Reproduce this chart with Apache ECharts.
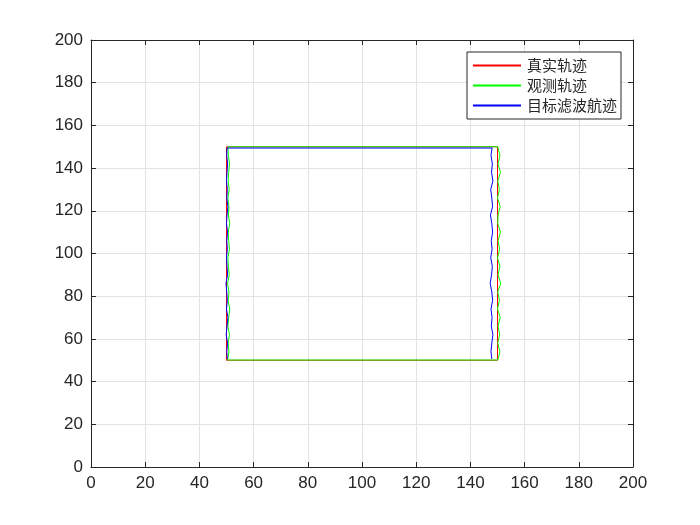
<!DOCTYPE html>
<html lang="zh">
<head>
  <meta charset="utf-8">
  <script src="https://cdn.jsdelivr.net/npm/echarts@6/dist/echarts.min.js"></script>
  <style>html,body{margin:0;padding:0;background:#fff;}</style>
</head>
<body>
  <div id="trackChart" style="width:700px;height:525px;"></div>

  <script type="text/javascript">

    // 真实轨迹
    var trueX = [50, 50, 150, 150, 50];
    var trueY = [50, 150, 150, 50, 50];

    // 观测轨迹
    var obsX = [50.4, 50.9, 50.6, 51.1, 50.5, 50.8, 51.2, 50.6, 50.9, 50.4, 51.0, 50.7, 50.5, 51.1, 50.8, 50.6, 51.2, 50.7, 50.9, 50.5, 51.0, 50.6, 50.8, 51.1, 50.7, 50.5,
                150.1,
                150.1, 150.9, 150.2, 151.1, 150.1, 150.7, 150.0, 151.0, 150.2, 150.1, 151.1, 150.2, 150.8, 150.0, 150.9, 150.2, 151.2, 150.1, 150.7, 150.0, 151.0, 150.2, 150.8, 150.1, 150.9, 150.1,
                50.5];
    var obsY = [50, 54, 58, 62, 66, 70, 74, 78, 82, 86, 90, 94, 98, 102, 106, 110, 114, 118, 122, 126, 130, 134, 138, 142, 146, 150,
                150,
                150, 146, 142, 138, 134, 130, 126, 122, 118, 114, 110, 106, 102, 98, 94, 90, 86, 82, 78, 74, 70, 66, 62, 58, 54, 50.1,
                50.1];

    // 目标滤波航迹
    var filtX = [50.3, 50.1, 50.4, 49.9, 50.2, 50.5, 50.0, 50.3, 50.1, 49.8, 50.4, 50.2, 50.0, 50.3, 50.1, 50.4, 50.0, 50.2, 50.5, 50.1, 50.3, 50.0, 50.2, 50.4, 50.1, 50.2,
                 148.0,
                 147.6, 148.1, 147.8, 148.3, 147.5, 147.9, 148.2, 147.4, 147.9, 148.2, 147.7, 148.0, 147.5, 148.1, 147.8, 147.3, 147.9, 148.2, 147.6, 148.0, 147.7, 148.3, 147.9, 147.6, 147.9, 148.0,
                 50.3];
    var filtY = [50.6, 54, 58, 62, 66, 70, 74, 78, 82, 86, 90, 94, 98, 102, 106, 110, 114, 118, 122, 126, 130, 134, 138, 142, 146, 149.4,
                 149.4,
                 146, 142, 138, 134, 130, 126, 122, 118, 114, 110, 106, 102, 98, 94, 90, 86, 82, 78, 74, 70, 66, 62, 58, 54, 50.6,
                 50.6];

    var xTicks = [0, 20, 40, 60, 80, 100, 120, 140, 160, 180, 200];
    var yTicks = [0, 20, 40, 60, 80, 100, 120, 140, 160, 180, 200];

    function zip(xs, ys) {
        return xs.map(function (x, i) { return [x, ys[i]]; });
    }

    function createTrackChart() {
        const chart = echarts.init(document.getElementById("trackChart"));
        const axisColor = '#262626';
        const gridColor = '#e3e3e3';
        const font = '"Liberation Sans", Arial, sans-serif';

        function valueAxis(ticks, pos, showLabel) {
            return {
                type: 'value',
                position: pos,
                min: ticks[0],
                max: ticks[ticks.length - 1],
                interval: ticks[1] - ticks[0],
                axisLine: {show: true, onZero: false, lineStyle: {color: axisColor, width: 1}},
                axisTick: {show: true, inside: true, length: 5, lineStyle: {color: axisColor}},
                axisLabel: {show: showLabel, color: axisColor, fontSize: 17, fontFamily: font, margin: 8},
                splitLine: {show: showLabel, lineStyle: {color: gridColor, width: 1}}
            };
        }

        let option = {
            animation: false,
            backgroundColor: '#ffffff',
            grid: {left: 91, right: 67, top: 40, bottom: 58, containLabel: false},
            xAxis: [valueAxis(xTicks, 'bottom', true), valueAxis(xTicks, 'top', false)],
            yAxis: [valueAxis(yTicks, 'left', true), valueAxis(yTicks, 'right', false)],
            legend: {
                orient: 'vertical',
                left: 467,
                top: 52,
                padding: [6, 4, 6, 6],
                itemGap: 5,
                itemWidth: 48,
                itemHeight: 2,
                icon: 'rect',
                borderColor: '#262626',
                borderWidth: 1,
                backgroundColor: '#ffffff',
                borderRadius: 0,
                textStyle: {
                    color: '#262626',
                    fontSize: 15,
                    lineHeight: 15,
                    fontFamily: '"Noto Sans CJK SC", sans-serif',
                    padding: [0, 0, 0, 1]
                },
                data: [
                    {name: '真实轨迹', itemStyle: {color: '#ff0000'}},
                    {name: '观测轨迹', itemStyle: {color: '#00ff00'}},
                    {name: '目标滤波航迹', itemStyle: {color: '#0000ff'}}
                ]
            },
            series: [
                {
                    name: '真实轨迹',
                    type: 'line',
                    data: zip(trueX, trueY),
                    showSymbol: false,
                    color: '#ff0000',
                    lineStyle: {color: '#ff0000', width: 1}
                },
                {
                    name: '观测轨迹',
                    type: 'line',
                    data: zip(obsX, obsY),
                    showSymbol: false,
                    color: '#00ff00',
                    lineStyle: {color: '#00ff00', width: 1}
                },
                {
                    name: '目标滤波航迹',
                    type: 'line',
                    data: zip(filtX, filtY),
                    showSymbol: false,
                    color: '#0000ff',
                    lineStyle: {color: '#0000ff', width: 1}
                }
            ]
        };

        chart.setOption(option);
    }
    createTrackChart();
  </script>
</body>
</html>
